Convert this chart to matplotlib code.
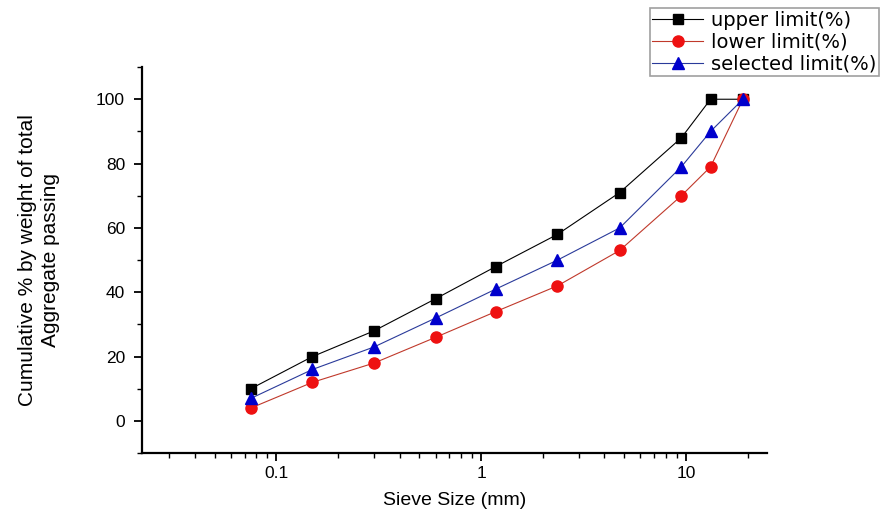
import matplotlib
matplotlib.use("Agg")
import matplotlib.pyplot as plt
from matplotlib.ticker import LogLocator, NullFormatter, MultipleLocator, FixedLocator, FixedFormatter

plt.rcParams['font.family'] = ['Liberation Sans', 'DejaVu Sans']

sieve = [0.075, 0.15, 0.3, 0.6, 1.18, 2.36, 4.75, 9.5, 13.2, 19]
upper = [10, 20, 28, 38, 48, 58, 71, 88, 100, 100]
lower = [4, 12, 18, 26, 34, 42, 53, 70, 79, 100]
selected = [7, 16, 23, 32, 41, 50, 60, 79, 90, 100]

fig = plt.figure(figsize=(8.8, 5.12), dpi=100)
ax = fig.add_axes([0.161, 0.115, 0.711, 0.754])

ax.plot(sieve, upper, color='black', lw=0.8, marker='s', ms=7, mfc='black', mec='black', label='upper limit(%)')
ax.plot(sieve, lower, color='#c0392b', lw=0.8, marker='o', ms=8, mfc='#ee1111', mec='#ee1111', label='lower limit(%)')
ax.plot(sieve, selected, color='#2a3a9a', lw=0.8, marker='^', ms=8, mfc='#0000cc', mec='#0000cc', label='selected limit(%)')

ax.set_xscale('log')
ax.set_xlim(0.022, 25)
ax.set_ylim(-10, 110)
ax.xaxis.set_major_locator(FixedLocator([0.1, 1, 10]))
ax.xaxis.set_major_formatter(FixedFormatter(['0.1', '1', '10']))
ax.xaxis.set_minor_locator(LogLocator(base=10, subs=range(2, 10)))
ax.xaxis.set_minor_formatter(NullFormatter())
ax.yaxis.set_major_locator(FixedLocator([0, 20, 40, 60, 80, 100]))
ax.yaxis.set_minor_locator(MultipleLocator(10))

for s in ['top', 'right']:
    ax.spines[s].set_visible(False)
for s in ['left', 'bottom']:
    ax.spines[s].set_linewidth(1.6)
ax.tick_params(which='major', direction='out', length=6, width=1.3, labelsize=12.5)
ax.tick_params(axis='y', which='major', pad=6)
ax.tick_params(axis='x', which='major', pad=3)
ax.tick_params(which='minor', direction='out', length=3.5, width=1.0)

ax.set_xlabel('Sieve Size (mm)', fontsize=14, labelpad=8)
ax.set_ylabel('Cumulative % by weight of total\nAggregate passing', fontsize=15, labelpad=26, ha='center',
              linespacing=1.25)

leg = fig.legend(loc='upper right', bbox_to_anchor=(0.999, 0.985), frameon=True, fancybox=False,
                 edgecolor='#888888', handlelength=2.6, handletextpad=0.4, labelspacing=0.15, borderpad=0.15,
                 borderaxespad=0.0, prop={'family': ['DejaVu Sans'], 'size': 14})
leg.get_frame().set_linewidth(1.2)

fig.savefig('out.png', dpi=100)
